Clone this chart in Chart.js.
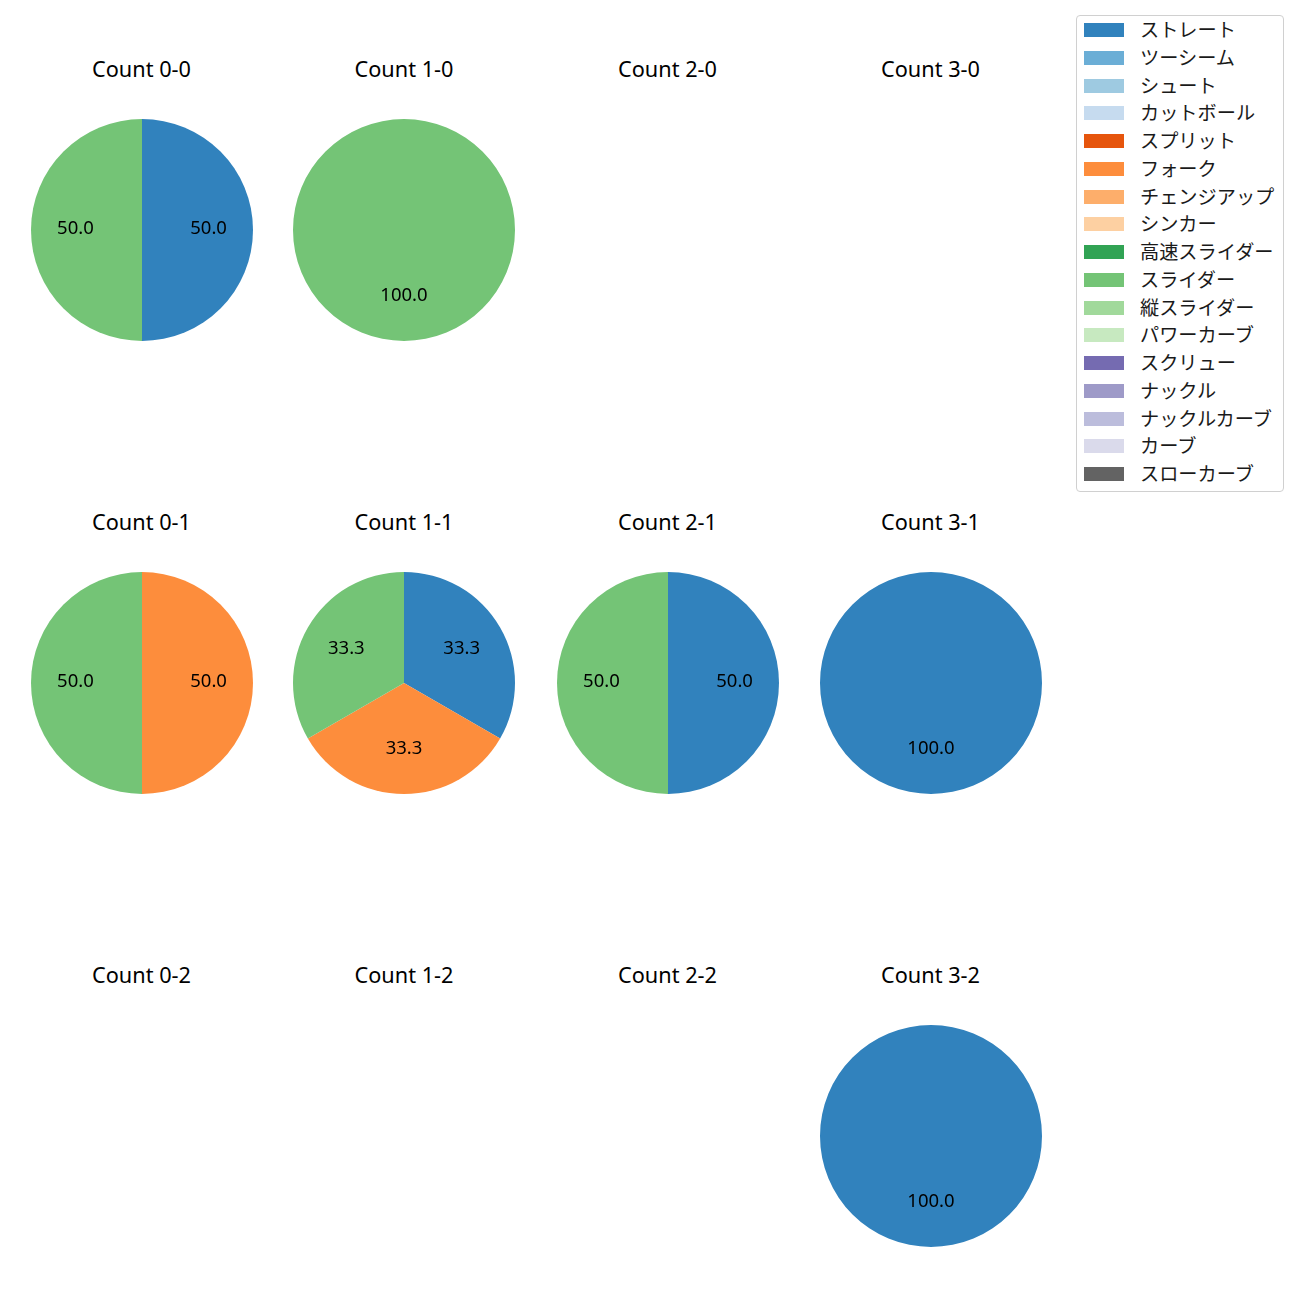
<!DOCTYPE html>
<html>
<head>
<meta charset="utf-8">
<script src="https://cdn.jsdelivr.net/npm/chart.js@4/dist/chart.umd.min.js"></script>
<style>
  html, body { margin: 0; padding: 0; background: #fff; }
  #root { position: relative; width: 1300px; height: 1300px; overflow: hidden; font-family: "Noto Sans", "Noto Sans CJK JP", sans-serif; }
  .title { position: absolute; width: 260px; text-align: center; font-size: 21.7px; color: #000; line-height: 26px; }
  .cv { position: absolute; }
  #legend { position: absolute; left: 1076px; top: 15px; width: 208px; height: 477px; border: 1px solid #d0d0d0; border-radius: 4px; box-sizing: border-box; background: #fff; font-family: "Noto Sans CJK JP", sans-serif; }
  .lrow { position: absolute; left: 0; height: 20px; }
  .lsw { position: absolute; left: 7px; top: 1.5px; width: 40px; height: 14px; }
  .ltx { position: absolute; left: 63px; top: -5.5px; font-size: 19.2px; white-space: nowrap; color: #1a1a1a; line-height: 26px; }
</style>
</head>
<body>
<div id="root"><div id="legend"></div></div>
<script>
// Pitch types (legend order)
const pitchTypes = ["ストレート","ツーシーム","シュート","カットボール","スプリット","フォーク","チェンジアップ","シンカー","高速スライダー","スライダー","縦スライダー","パワーカーブ","スクリュー","ナックル","ナックルカーブ","カーブ","スローカーブ"];
const pitchColors = ["#3182bd","#6baed6","#9ecae1","#c6dbef","#e6550d","#fd8d3c","#fdae6b","#fdd0a2","#31a354","#74c476","#a1d99b","#c7e9c0","#756bb1","#9e9ac8","#bcbddc","#dadaeb","#636363"];

// Count labels, grid order (row by row)
const countLabels = ["Count 0-0","Count 1-0","Count 2-0","Count 3-0",
                     "Count 0-1","Count 1-1","Count 2-1","Count 3-1",
                     "Count 0-2","Count 1-2","Count 2-2","Count 3-2"];

// Pitch counts per count situation (index = pitchTypes order)
const c00 = [1,0,0,0,0,0,0,0,0,1,0,0,0,0,0,0,0];
const c10 = [0,0,0,0,0,0,0,0,0,1,0,0,0,0,0,0,0];
const c20 = [0,0,0,0,0,0,0,0,0,0,0,0,0,0,0,0,0];
const c30 = [0,0,0,0,0,0,0,0,0,0,0,0,0,0,0,0,0];
const c01 = [0,0,0,0,0,1,0,0,0,1,0,0,0,0,0,0,0];
const c11 = [1,0,0,0,0,1,0,0,0,1,0,0,0,0,0,0,0];
const c21 = [1,0,0,0,0,0,0,0,0,1,0,0,0,0,0,0,0];
const c31 = [1,0,0,0,0,0,0,0,0,0,0,0,0,0,0,0,0];
const c02 = [0,0,0,0,0,0,0,0,0,0,0,0,0,0,0,0,0];
const c12 = [0,0,0,0,0,0,0,0,0,0,0,0,0,0,0,0,0];
const c22 = [0,0,0,0,0,0,0,0,0,0,0,0,0,0,0,0,0];
const c32 = [1,0,0,0,0,0,0,0,0,0,0,0,0,0,0,0,0];
const countData = [c00,c10,c20,c30,c01,c11,c21,c31,c02,c12,c22,c32];

// Layout
const colCenters = [141.5, 404, 667.5, 930.5];
const rowCenters = [229.5, 682.5, 1135.5];
const titleOffset = 161;
const R = 111;

const pctLabels = {
  id: 'pctLabels',
  afterDatasetsDraw(chart) {
    const ctx = chart.ctx;
    const ds = chart.data.datasets[0];
    const total = ds.data.reduce((a, b) => a + b, 0);
    if (!total) return;
    const meta = chart.getDatasetMeta(0);
    ctx.save();
    ctx.font = '18.5px "Noto Sans", sans-serif';
    ctx.fillStyle = '#000';
    ctx.textAlign = 'center';
    ctx.textBaseline = 'middle';
    meta.data.forEach((arc, i) => {
      const v = ds.data[i];
      if (!v) return;
      const p = arc.getProps(['x','y','startAngle','endAngle','outerRadius']);
      const mid = (p.startAngle + p.endAngle) / 2;
      const r = p.outerRadius * 0.6;
      ctx.fillText((v / total * 100).toFixed(1), p.x + Math.cos(mid) * r, p.y + Math.sin(mid) * r - 1);
    });
    ctx.restore();
  }
};

const root = document.getElementById('root');
countLabels.forEach((lab, k) => {
  const cx = colCenters[k % 4], cy = rowCenters[Math.floor(k / 4)];
  const t = document.createElement('div');
  t.className = 'title';
  t.textContent = lab;
  t.style.left = (cx - 130) + 'px';
  t.style.top = (cy - titleOffset - 13) + 'px';
  root.appendChild(t);

  const wrap = document.createElement('div');
  wrap.className = 'cv';
  wrap.style.left = (cx - R) + 'px';
  wrap.style.top = (cy - R) + 'px';
  wrap.style.width = (2 * R) + 'px';
  wrap.style.height = (2 * R) + 'px';
  const cv = document.createElement('canvas');
  wrap.appendChild(cv);
  root.appendChild(wrap);

  new Chart(cv, {
    type: 'pie',
    data: {
      labels: pitchTypes,
      datasets: [{ data: countData[k], backgroundColor: pitchColors, borderWidth: 0 }]
    },
    options: {
      responsive: true,
      maintainAspectRatio: false,
      animation: false,
      layout: { padding: 0 },
      plugins: { legend: { display: false }, tooltip: { enabled: false } }
    },
    plugins: [pctLabels]
  });
});

const legend = document.getElementById('legend');
pitchTypes.forEach((name, i) => {
  const row = document.createElement('div');
  row.className = 'lrow';
  row.style.top = (5.5 + i * 27.75) + 'px';
  const sw = document.createElement('div');
  sw.className = 'lsw';
  sw.style.background = pitchColors[i];
  const tx = document.createElement('div');
  tx.className = 'ltx';
  tx.textContent = name;
  row.appendChild(sw);
  row.appendChild(tx);
  legend.appendChild(row);
});
</script>
</body>
</html>
